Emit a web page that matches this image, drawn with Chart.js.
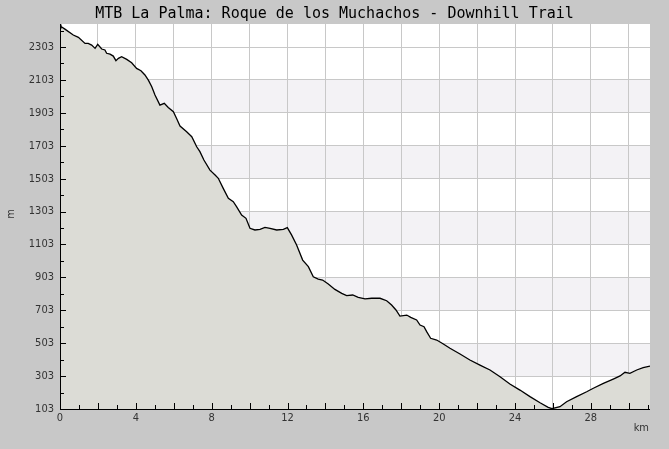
<!DOCTYPE html>
<html><head><meta charset="utf-8">
<script src="https://cdn.jsdelivr.net/npm/chart.js@4"></script>
<style>html,body{margin:0;padding:0;background:#c8c8c8;}#wrap{width:669px;height:449px;}</style>
</head><body><div id="wrap"><canvas id="c" width="669" height="449"></canvas></div>
<script>
const chartTitle = "MTB La Palma: Roque de los Muchachos - Downhill Trail";
const xTitle = "km";
const yTitle = "m";
const kms  = [0, 0.05, 0.26, 0.70, 0.97, 1.32, 1.49, 1.67, 1.85, 1.99,
              2.2, 2.37, 2.46, 2.64, 2.81, 2.95, 3.08, 3.25, 3.52, 3.78,
              4.04, 4.27, 4.48, 4.66, 4.84, 5.01, 5.27, 5.5, 5.71, 5.98,
              6.15, 6.33, 6.68, 6.95, 7.21, 7.38, 7.59, 7.91, 8.18, 8.35,
              8.61, 8.88, 9.14, 9.32, 9.58, 9.81, 10.02, 10.28, 10.55, 10.81,
              11.08, 11.43, 11.78, 11.99, 12.22, 12.48, 12.8, 13.1, 13.36, 13.62,
              13.85, 14.15, 14.5, 14.86, 15.12, 15.44, 15.73, 16.09, 16.44, 16.88,
              17.23, 17.49, 17.72, 17.93, 18.29, 18.5, 18.81, 18.99, 19.2, 19.34,
              19.55, 19.87, 20.22, 20.57, 21.1, 21.62, 22.15, 22.68, 23.21, 23.73,
              24.26, 24.79, 25.32, 25.75, 25.95, 26.37, 26.72, 27.25, 27.78, 28.13,
              28.66, 29.18, 29.54, 29.8, 30.06, 30.42, 30.76, 31.12];
const elev = [2440, 2428, 2412, 2376, 2362, 2325, 2325, 2315, 2295, 2319,
              2291, 2285, 2265, 2260, 2248, 2220, 2234, 2244, 2228, 2207,
              2173, 2159, 2133, 2102, 2062, 2011, 1950, 1961, 1936, 1910,
              1869, 1823, 1788, 1758, 1697, 1667, 1616, 1555, 1525, 1505,
              1444, 1383, 1363, 1332, 1282, 1262, 1201, 1191, 1195, 1207,
              1201, 1191, 1195, 1205, 1160, 1100, 1008, 968, 907, 893,
              887, 863, 830, 806, 792, 796, 782, 772, 776, 776,
              761, 735, 705, 668, 674, 660, 644, 613, 603, 573,
              533, 522, 498, 472, 437, 401, 370, 340, 299, 255,
              218, 178, 141, 113, 105, 117, 147, 178, 208, 229,
              259, 285, 304, 326, 320, 340, 354, 364];
const yTickLabels = [103, 303, 503, 703, 903, 1103, 1303, 1503, 1703, 1903, 2103, 2303];
const xTickLabels = [0, 4, 8, 12, 16, 20, 24, 28];
const yMin = 103, yMax = 2443, xMin = 0, xMax = 31.12;
const shadedBands = [[303, 503], [703, 903], [1103, 1303], [1503, 1703], [1903, 2103]];

const points = kms.map((k, i) => ({x: k, y: elev[i]}));
const labelFont = {family: "'DejaVu Sans Condensed','DejaVu Sans',sans-serif", size: 11};

const decor = {
  id: 'decor',
  beforeDraw(chart) {
    const {ctx, chartArea: a, scales: {y}} = chart;
    ctx.save();
    ctx.fillStyle = '#c8c8c8';
    ctx.fillRect(0, 0, chart.width, chart.height);
    ctx.fillStyle = '#ffffff';
    ctx.fillRect(a.left, a.top, a.right - a.left, a.bottom - a.top);
    ctx.fillStyle = '#f3f2f5';
    shadedBands.forEach(([lo, hi]) => {
      const p1 = Math.round(y.getPixelForValue(hi)), p2 = Math.round(y.getPixelForValue(lo));
      ctx.fillRect(a.left, p1, a.right - a.left, p2 - p1);
    });
    ctx.restore();
  },
  afterDraw(chart) {
    const {ctx, chartArea: a, scales: {x, y}} = chart;
    ctx.save();
    ctx.fillStyle = '#000';
    for (let v = yMin; v <= yMax; v += 100) {
      const py = Math.round(y.getPixelForValue(v));
      const major = yTickLabels.includes(v);
      ctx.fillRect(a.left, py, major ? 6 : 4, 1);
    }
    for (let v = 1; v <= Math.floor(xMax); v += 1) {
      const px = Math.round(x.getPixelForValue(v));
      const len = v % 2 === 0 ? 6 : 4;
      ctx.fillRect(px, a.bottom - len, 1, len);
    }
    ctx.fillRect(a.left, a.top, 1, a.bottom - a.top + 1);
    ctx.fillRect(a.left, a.bottom, a.right - a.left, 1);
    ctx.font = "15px 'DejaVu Sans Mono', monospace";
    ctx.textAlign = 'center';
    ctx.textBaseline = 'middle';
    ctx.fillStyle = '#000';
    ctx.fillText(chartTitle, 334.5, 14);
    ctx.font = "11px 'DejaVu Sans Condensed','DejaVu Sans',sans-serif";
    ctx.fillStyle = '#333';
    ctx.textAlign = 'right';
    ctx.fillText(xTitle, a.right - 1, 428);
    ctx.translate(11, 214);
    ctx.rotate(-Math.PI / 2);
    ctx.textAlign = 'center';
    ctx.fillText(yTitle, 0, 0);
    ctx.restore();
  }
};

new Chart(document.getElementById('c'), {
  type: 'line',
  data: {datasets: [{
    data: points,
    borderColor: '#000',
    borderWidth: 1.3,
    backgroundColor: '#dcdcd6',
    fill: 'start',
    pointRadius: 0,
    tension: 0
  }]},
  options: {
    responsive: false,
    animation: false,
    devicePixelRatio: 1,
    layout: {padding: {left: 0, right: 19, top: 24, bottom: 0}},
    plugins: {legend: {display: false}, title: {display: false}, tooltip: {enabled: false}},
    scales: {
      x: {
        type: 'linear', min: xMin, max: xMax,
        afterBuildTicks: s => { const t = []; for (let v = 0; v <= Math.floor(xMax); v++) t.push({value: v}); s.ticks = t; },
        afterFit: s => { s.height = 40; },
        ticks: {autoSkip: false, maxRotation: 0, padding: 3, color: '#333', font: labelFont,
                callback: v => xTickLabels.includes(v) ? String(v) : ''},
        grid: {drawTicks: false, lineWidth: 1,
               color: c => (c.tick && c.tick.value % 2 === 0 && c.tick.value > 0) ? '#c8c8c8' : 'rgba(0,0,0,0)'},
        border: {display: false}
      },
      y: {
        type: 'linear', min: yMin, max: yMax,
        afterBuildTicks: s => { const t = []; for (let v = yMin; v <= yMax; v += 100) t.push({value: v}); s.ticks = t; },
        afterFit: s => { s.width = 60; },
        ticks: {autoSkip: false, padding: 6, color: '#333', font: labelFont,
                callback: v => yTickLabels.includes(v) ? String(v) : ''},
        grid: {drawTicks: false, lineWidth: 1,
               color: c => (c.tick && yTickLabels.includes(c.tick.value) && c.tick.value > yMin) ? '#c8c8c8' : 'rgba(0,0,0,0)'},
        border: {display: false}
      }
    }
  },
  plugins: [decor]
});
</script></body></html>
